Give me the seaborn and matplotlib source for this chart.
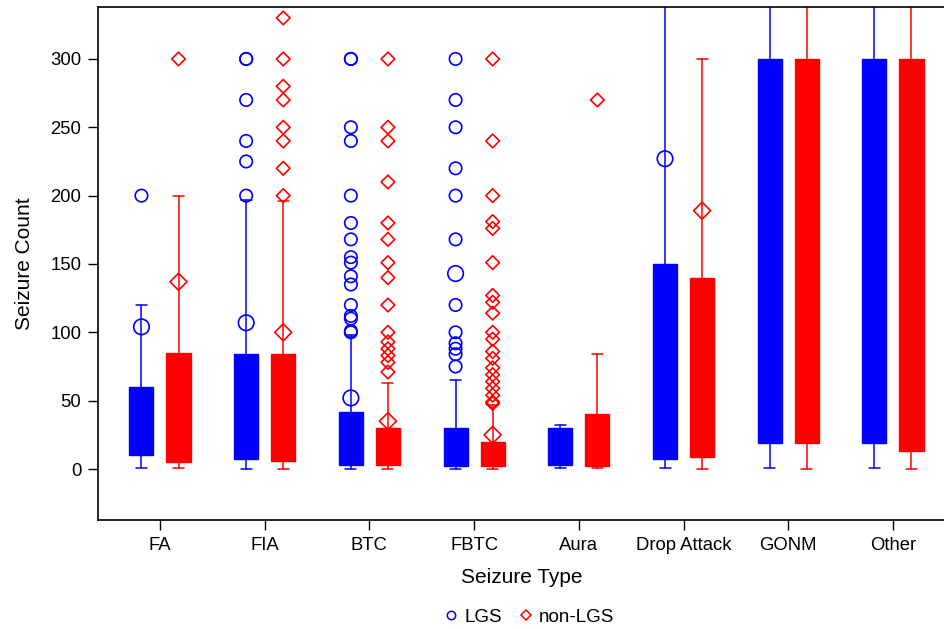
import matplotlib
matplotlib.use('Agg')
import matplotlib.pyplot as plt
from matplotlib.lines import Line2D
import seaborn as sns
import numpy as np
import pandas as pd

seizure_types = ['FA', 'FIA', 'BTC', 'FBTC', 'Aura', 'Drop Attack', 'GONM', 'Other']
groups = ['LGS', 'non-LGS']
colors = {'LGS': '#0000ff', 'non-LGS': '#ff0000'}
markers = {'LGS': 'o', 'non-LGS': 'D'}

# box summaries
lgs_whislo = [1, 0, 0, 0, 1, 1, 1, 1]
lgs_q1 = [10, 7, 3, 2.5, 3, 7, 19, 19]
lgs_q3 = [60, 84, 42, 30, 30, 150, 300, 300]
lgs_whishi = [120, 197, 98, 65, 32, 420, 420, 420]
lgs_mean = [104, 107, 52, 143, np.nan, 227, np.nan, np.nan]

non_whislo = [0.5, 0, 0, 0, 1, 0, 0, 0]
non_q1 = [5, 6, 3, 2, 2.5, 9, 19, 13]
non_q3 = [85, 84, 30, 19.5, 40, 140, 300, 300]
non_whishi = [200, 196, 63, 47, 84, 300, 420, 420]
non_mean = [137, 100, 35, 25, np.nan, 189, np.nan, np.nan]

lgs_outliers = {
    'FA': [200],
    'FIA': [300, 300, 270, 240, 225, 200],
    'BTC': [300, 300, 250, 240, 200, 180, 168, 155, 151, 141, 135, 120, 112, 110, 101, 100],
    'FBTC': [300, 270, 250, 220, 200, 168, 120, 100, 92, 88, 84, 75],
}
non_outliers = {
    'FA': [300],
    'FIA': [330, 300, 280, 270, 250, 240, 220, 200],
    'BTC': [300, 250, 240, 210, 180, 168, 151, 140, 120, 100, 93, 88, 83, 78, 71],
    'FBTC': [300, 240, 200, 181, 176, 151, 127, 122, 114, 100, 95, 86, 81, 74, 69, 64, 59, 54, 49, 48],
    'Aura': [270],
}

summary = {
    'LGS': (lgs_whislo, lgs_q1, lgs_q3, lgs_whishi, lgs_mean, lgs_outliers),
    'non-LGS': (non_whislo, non_q1, non_q3, non_whishi, non_mean, non_outliers),
}

offset = {'LGS': -0.177, 'non-LGS': 0.177}
box_w = 0.23

sns.set_style('white')
plt.rcParams['font.family'] = ['Liberation Sans', 'DejaVu Sans']
plt.rcParams['text.color'] = 'black'
plt.rcParams['axes.labelcolor'] = 'black'
plt.rcParams['xtick.color'] = 'black'
plt.rcParams['ytick.color'] = 'black'

fig = plt.figure(figsize=(9.45, 6.29), dpi=100)
ax = fig.add_axes([98 / 945, 1 - 520 / 629, 1 - 98 / 945, 513 / 629])

rows = []
for g in groups:
    wlo, q1, q3, whi, mean, outl = summary[g]
    c = colors[g]
    stats = []
    for i, t in enumerate(seizure_types):
        stats.append(dict(whislo=wlo[i], q1=q1[i], med=q1[i], q3=q3[i], whishi=whi[i], fliers=[]))
        if not np.isnan(mean[i]):
            rows.append(dict(type=t, group=g, kind='mean', value=mean[i], x=i + offset[g]))
        for v in outl.get(t, []):
            rows.append(dict(type=t, group=g, kind='outlier', value=v, x=i + offset[g]))
    pos = np.arange(len(seizure_types)) + offset[g]
    ax.bxp(stats, positions=pos, widths=box_w, capwidths=0.105, patch_artist=True,
           showfliers=False, manage_ticks=False,
           boxprops=dict(facecolor=c, edgecolor=c, linewidth=1),
           whiskerprops=dict(color=c, linewidth=1.1),
           capprops=dict(color=c, linewidth=1.1),
           medianprops=dict(visible=False))

pts = pd.DataFrame(rows)
sizes = {('LGS', 'outlier'): 80, ('LGS', 'mean'): 125,
         ('non-LGS', 'outlier'): 48, ('non-LGS', 'mean'): 75}
for (g, k), sub in pts.groupby(['group', 'kind']):
    sns.scatterplot(data=sub, x='x', y='value', marker=markers[g], s=sizes[(g, k)],
                    facecolor='none', edgecolor=colors[g], linewidth=1.2, ax=ax, zorder=3)

ax.set_xlim(-0.592, 7.497)
ax.set_ylim(-37.3, 338)
ax.set_xticks(range(len(seizure_types)))
ax.set_xticklabels(seizure_types)
ax.set_yticks(range(0, 301, 50))
ax.tick_params(axis='both', which='major', bottom=True, left=True, direction='out',
               length=7, width=1, labelsize=13.3, colors='black', pad=5)
ax.set_xlabel('Seizure Type', fontsize=15, labelpad=10)
ax.set_ylabel('Seizure Count', fontsize=15, labelpad=12)
for s in ['left', 'top', 'bottom']:
    ax.spines[s].set_color('black')
    ax.spines[s].set_linewidth(1.2)
ax.spines['right'].set_visible(False)

handles = [Line2D([], [], marker=markers[g], linestyle='none', markersize=6 if g == 'LGS' else 5,
                  markerfacecolor='none', markeredgecolor=colors[g], markeredgewidth=1.1, label=g)
           for g in groups]
fig.legend(handles=handles, loc='center', bbox_to_anchor=(528 / 945, 1 - 617 / 629), ncol=2,
           frameon=False, fontsize=13.5, handletextpad=0.2, columnspacing=0.8, handlelength=1)

fig.savefig('out.png', dpi=100)
plt.close(fig)
